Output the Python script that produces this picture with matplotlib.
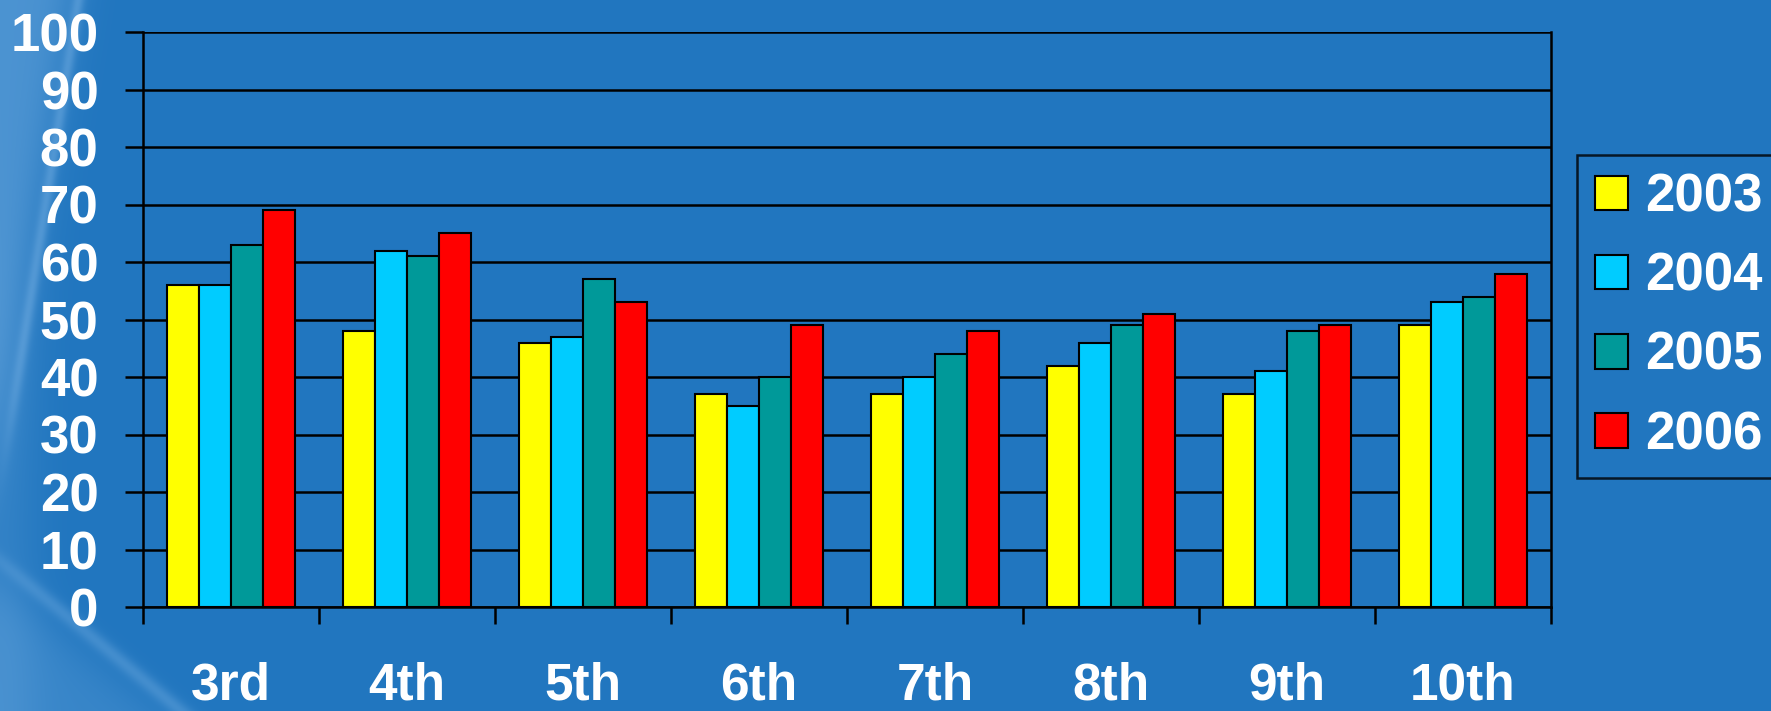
import numpy as np
import matplotlib.pyplot as plt
from matplotlib.patches import Patch

# grade levels and yearly values (percent)
grades = ["3rd", "4th", "5th", "6th", "7th", "8th", "9th", "10th"]
years = ["2003", "2004", "2005", "2006"]
v2003 = [56, 48, 46, 37, 37, 42, 37, 49]
v2004 = [56, 62, 47, 35, 40, 46, 41, 53]
v2005 = [63, 61, 57, 40, 44, 49, 48, 54]
v2006 = [69, 65, 53, 49, 48, 51, 49, 58]
series = [v2003, v2004, v2005, v2006]
colors = ["#FFFF00", "#00CCFF", "#009999", "#FF0000"]

bg = "#2176BF"
plt.rcParams['font.family'] = ['Liberation Sans', 'DejaVu Sans']
plt.rcParams['font.weight'] = 'bold'

W, H = 1771, 711
fig = plt.figure(figsize=(W / 100, H / 100), dpi=100)
fig.patch.set_facecolor(bg)


def smoothstep(v, w):
    return 1 / (1 + np.exp(-v / w))


# background: plain blue with a soft light swoosh along the left edge
bax = fig.add_axes([0, 0, 1, 1], zorder=-10)
yy, xx = np.mgrid[0:H, 0:W].astype(float)
base = np.array([0x21, 0x76, 0xBF]) / 255.0
light = np.array([0.55, 0.75, 0.93])
edge = 70 - 0.16 * yy
top_fade = smoothstep(460 - yy, 40)
glow = 0.40 * smoothstep(edge - xx, 12) * top_fade
glow += 0.30 * np.exp(-((xx - edge - 8) / 6.0) ** 2) * smoothstep(420 - yy, 30)
curve = 1.2 * (yy - 560)
bot_fade = smoothstep(yy - 560, 20)
glow += 0.28 * np.exp(-((xx - curve) / 12.0) ** 2) * bot_fade
glow += 0.22 * smoothstep(curve - 30 - xx, 20) * bot_fade
glow += 0.15 * np.exp(-(xx / 40.0) ** 2) * smoothstep(yy - 300, 60)
glow = np.clip(glow, 0, 0.6)
img = base[None, None, :] + glow[..., None] * (light - base)[None, None, :]
bax.imshow(np.clip(img, 0, 1), extent=[0, W, H, 0], aspect='auto')
bax.set_axis_off()

ax = fig.add_axes([143 / W, 1 - 607 / H, (1551 - 143) / W, (607 - 32) / H])
ax.set_facecolor('none')

x = np.arange(len(grades))
w = 1 / 5.5
for i, (vals, c, yr) in enumerate(zip(series, colors, years)):
    ax.bar(x + (i - 1.5) * w, vals, width=w, color=c, edgecolor='black',
           linewidth=1.5, label=yr, zorder=3)

ax.set_xlim(-0.5, len(grades) - 0.5)
ax.set_ylim(0, 100)
ax.set_yticks(np.arange(0, 101, 10))
ax.yaxis.grid(True, color='black', linewidth=1.8, zorder=1)
ax.set_axisbelow(True)

ax.set_xticks(x)
ax.set_xticklabels(grades)
ax.set_xticks(np.arange(len(grades) + 1) - 0.5, minor=True)
ax.tick_params(axis='x', which='major', length=0, pad=39, labelsize=37, labelcolor='white')
ax.tick_params(axis='x', which='minor', length=12, width=1.8, color='black')
ax.tick_params(axis='y', length=13, width=1.8, color='black', pad=19, labelsize=38, labelcolor='white')

for s in ax.spines.values():
    s.set_color('black')
    s.set_linewidth(1.8)
ax.spines['top'].set_visible(False)

handles = [Patch(facecolor=c, edgecolor='black', linewidth=1.5) for c in colors]
leg = fig.legend(handles, years, loc='upper left', bbox_to_anchor=(1577 / W, 1 - 155 / H),
                 frameon=True, fancybox=False, fontsize=38, handlelength=0.62,
                 handleheight=0.62, handletextpad=0.33, labelspacing=0.55,
                 borderpad=0.34, borderaxespad=0)
leg.get_frame().set_facecolor(bg)
leg.get_frame().set_edgecolor('black')
leg.get_frame().set_linewidth(1.8)
for t in leg.get_texts():
    t.set_color('white')

fig.savefig("out.png", dpi=100, facecolor=bg)
